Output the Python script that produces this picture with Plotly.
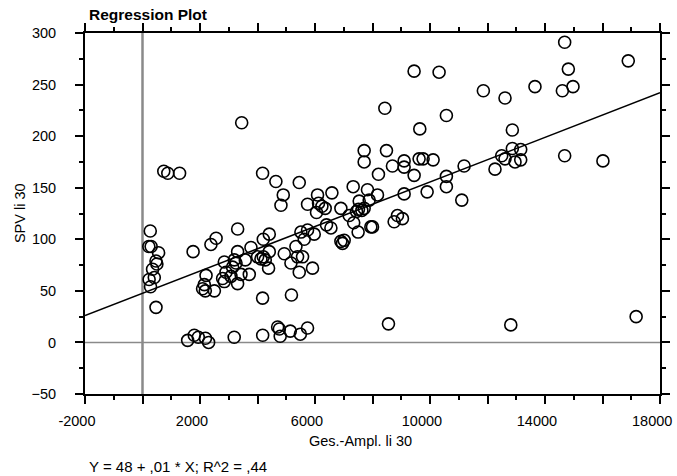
import plotly.graph_objects as go

# --- data (Ges.-Ampl. li 30, SPV li 30) ---
ges_ampl = [
    270, 220, 300, 560, 470, 500, 350, 230, 410, 280, 470,
    740, 880, 1290, 3450,
    1570, 1800, 1940, 2190, 2300, 3190, 4180, 4700, 4760, 4790, 5140, 5490, 5740, 8555, 12810, 17170,
    1760, 2380, 2560, 3310,
    2210, 2150, 2090, 2185, 2500,
    2846, 3193, 3252, 3134, 2904, 3426, 3714, 2787, 2846, 3078, 3308,
    3308, 3773, 3575, 4003, 4120, 4270, 4201, 4385, 4409, 4201, 4409, 4177,
    4931, 5337, 5163, 5393, 5567, 5452, 5914, 5180,
    5510, 5741, 5625, 5973,
    4640, 4177, 4896, 4816, 5452, 6088, 6588, 7328, 7825, 8173, 7884, 9100,
    5741, 6123, 6240, 6053, 6355, 6900, 7537, 7512, 7630, 7443, 7710, 7189, 7346,
    7943, 8000, 7500, 8753, 9041, 8868, 6400, 6553, 6900, 6957, 7015,
    8430, 9645, 7710, 8486, 7710, 8694, 9100, 9100, 9448, 9621, 9760, 10108, 8207,
    9447, 10316, 11856, 12609, 10570, 13651, 14684, 14812, 14604, 14974, 16896,
    12864, 12864, 13155, 12494, 12609, 12957, 13155, 12261, 14684, 16015,
    11186, 10570, 10570, 11105, 9900,
]
spv = [
    108, 93, 93, 87, 79, 76, 71, 61, 63, 54, 34,
    166, 164, 164, 213,
    2, 7, 5, 4, 0, 5, 7, 15, 13, 6, 11, 8, 14, 18, 17, 25,
    88, 95, 101, 110,
    65, 56, 52, 50, 50,
    78, 80, 77, 73, 68, 66, 66, 62, 59, 64, 57,
    88, 92, 80, 83, 81, 80, 83, 72, 88, 100, 105, 43,
    86, 93, 77, 83, 83, 68, 72, 46,
    107, 109, 100, 105,
    156, 164, 143, 133, 155, 143, 145, 151, 148, 143, 138, 144,
    134, 135, 132, 126, 130, 130, 137, 129, 128, 127, 130, 123, 116,
    112, 112, 107, 117, 120, 123, 114, 111, 98, 96, 99,
    227, 207, 186, 186, 175, 171, 176, 170, 162, 178, 178, 177, 163,
    263, 262, 244, 237, 220, 248, 291, 265, 244, 248, 273,
    206, 188, 187, 181, 178, 175, 177, 168, 181, 176,
    171, 161, 151, 138, 146,
]

# regression line as shown: Y = 48 + ,01 * X
reg_intercept = 47.6
reg_slope = 0.0108
x_range = [-2000, 18000]
y_range = [-50, 300]

x_tickvals = list(range(-2000, 18001, 2000))
x_ticklabels = [-2000, 2000, 6000, 10000, 14000]
x_edge_label = 18000          # drawn separately so it stays inside the page
y_tickvals = list(range(-50, 301, 50))

NBSP = "\u00a0"
x_ticktext = [(str(v) + NBSP * 4) if v in x_ticklabels else "" for v in x_tickvals]

FONT = "Liberation Sans, Arial, Helvetica, sans-serif"

fig = go.Figure()

fig.add_trace(go.Scatter(
    x=ges_ampl, y=spv, mode="markers",
    marker=dict(symbol="circle-open", size=12, color="black", line=dict(width=1.6, color="black")),
    showlegend=False, hoverinfo="x+y",
))

fig.add_trace(go.Scatter(
    x=x_range, y=[reg_intercept + reg_slope * v for v in x_range],
    mode="lines", line=dict(color="black", width=1.5),
    showlegend=False, hoverinfo="skip",
))

# reference lines at 0
fig.add_shape(type="line", xref="x", yref="paper", x0=0, x1=0, y0=0, y1=1,
              line=dict(color="#8a8a8a", width=2.5), layer="below")
fig.add_shape(type="line", xref="paper", yref="y", x0=0, x1=1, y0=0, y1=0,
              line=dict(color="#8a8a8a", width=1.5), layer="below")

axis_common = dict(
    showline=True, linecolor="black", linewidth=2, mirror="ticks",
    ticks="outside", ticklen=8, tickwidth=1.5, tickcolor="black",
    showgrid=False, zeroline=False, automargin=False, ticklabeloverflow="allow",
    tickfont=dict(family=FONT, size=14.5, color="black"),
)

fig.update_xaxes(
    range=x_range, tickmode="array", tickvals=x_tickvals, ticktext=x_ticktext,
    ticklabelstandoff=5,
    minor=dict(ticks="outside", ticklen=4, tickwidth=1.5, tickcolor="black", dtick=1000, tick0=-2000, showgrid=False),
    **axis_common,
)
fig.update_yaxes(
    range=y_range, tickmode="array", tickvals=y_tickvals,
    ticklabelstandoff=16,
    minor=dict(ticks="outside", ticklen=4, tickwidth=1.5, tickcolor="black", dtick=25, tick0=-50, showgrid=False),
    **axis_common,
)

pw, ph = 575.5, 361.0
annots = [
    dict(text="<b>Regression Plot</b>", x=(87 - 84.5) / pw, y=1 + 19 / ph, xanchor="left", yanchor="middle",
         font=dict(size=15.5)),
    dict(text="SPV li 30", x=-(84.5 - 19) / pw, y=0.5, textangle=-90, xanchor="center", yanchor="middle",
         font=dict(size=14.5)),
    dict(text="Ges.-Ampl. li 30", x=(360 - 84.5) / pw, y=-(441 - 394) / ph, xanchor="center", yanchor="middle",
         font=dict(size=14.5)),
    dict(text="Y = 48 + ,01 * X; R^2 = ,44", x=(87 - 84.5) / pw, y=-(466 - 394) / ph, xanchor="left",
         yanchor="middle", font=dict(size=15)),
]
for a in annots:
    a.update(xref="paper", yref="paper", showarrow=False)
    a["font"].update(family=FONT, color="black")
    fig.add_annotation(**a)

# last x tick label, placed like the others (shifted left of its tick)
fig.add_annotation(text=str(x_edge_label), xref="x", yref="paper", x=x_edge_label, xshift=-8,
                   y=-(421 - 394) / ph, xanchor="center", yanchor="middle", showarrow=False,
                   font=dict(family=FONT, size=14.5, color="black"))

fig.update_layout(
    width=677, height=476,
    margin=dict(l=84.5, r=17, t=33, b=82, pad=0, autoexpand=False),
    plot_bgcolor="white", paper_bgcolor="white",
    font=dict(family=FONT, color="black"),
)

fig.write_html("out.html", config={"displayModeBar": False},
               post_script="document.body.style.margin='0';document.body.style.overflow='hidden';")
